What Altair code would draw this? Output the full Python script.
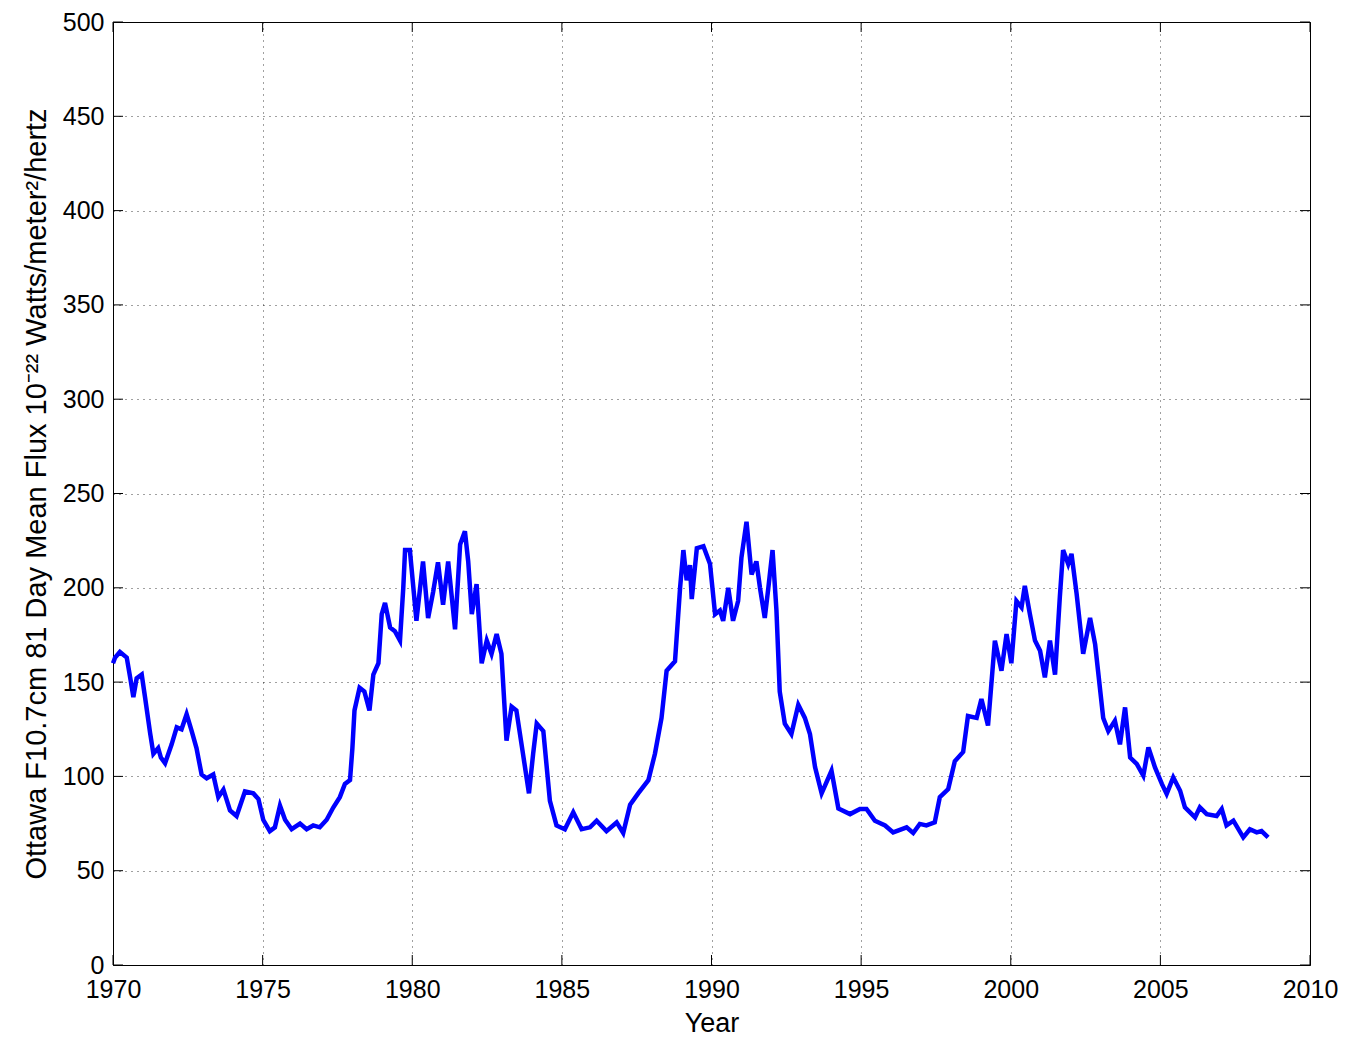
import altair as alt
import pandas as pd

# Ottawa F10.7 cm solar radio flux, 81-day running mean
years = [
    1970.0, 1970.07, 1970.23, 1970.46, 1970.6, 1970.68, 1970.79, 1970.96, 1971.07, 1971.24,
    1971.35, 1971.51, 1971.6, 1971.74, 1971.96, 1972.13, 1972.29, 1972.46, 1972.63, 1972.79,
    1972.96, 1973.13, 1973.35, 1973.52, 1973.69, 1973.91, 1974.13, 1974.41, 1974.69, 1974.86,
    1975.02, 1975.24, 1975.41, 1975.58, 1975.75, 1975.97, 1976.25, 1976.47, 1976.69, 1976.91,
    1977.14, 1977.36, 1977.58, 1977.75, 1977.92, 1978.0, 1978.07, 1978.24, 1978.4, 1978.57,
    1978.7, 1978.87, 1978.98, 1979.09, 1979.26, 1979.42, 1979.59, 1979.7, 1979.76, 1979.92,
    1980.14, 1980.36, 1980.53, 1980.7, 1980.86, 1981.03, 1981.2, 1981.43, 1981.6, 1981.76,
    1981.87, 1981.99, 1982.15, 1982.32, 1982.49, 1982.65, 1982.82, 1982.98, 1983.15, 1983.32,
    1983.48, 1983.7, 1983.9, 1984.04, 1984.16, 1984.38, 1984.6, 1984.82, 1985.1, 1985.38,
    1985.66, 1985.94, 1986.16, 1986.49, 1986.83, 1987.05, 1987.28, 1987.55, 1987.89, 1988.11,
    1988.33, 1988.5, 1988.78, 1988.95, 1989.06, 1989.17, 1989.28, 1989.34, 1989.51, 1989.73,
    1989.95, 1990.12, 1990.28, 1990.39, 1990.56, 1990.72, 1990.89, 1991.0, 1991.17, 1991.34,
    1991.5, 1991.62, 1991.78, 1991.9, 1992.04, 1992.17, 1992.28, 1992.45, 1992.67, 1992.9,
    1993.12, 1993.29, 1993.46, 1993.68, 1994.01, 1994.24, 1994.63, 1994.96, 1995.18, 1995.46,
    1995.8, 1996.07, 1996.52, 1996.74, 1996.96, 1997.18, 1997.46, 1997.63, 1997.91, 1998.13,
    1998.41, 1998.57, 1998.86, 1999.02, 1999.24, 1999.47, 1999.69, 1999.86, 2000.02, 2000.19,
    2000.36, 2000.47, 2000.64, 2000.81, 2000.98, 2001.14, 2001.31, 2001.48, 2001.64, 2001.75,
    2001.92, 2002.03, 2002.2, 2002.42, 2002.65, 2002.82, 2003.09, 2003.26, 2003.48, 2003.65,
    2003.82, 2003.99, 2004.21, 2004.43, 2004.6, 2004.82, 2005.05, 2005.21, 2005.43, 2005.66,
    2005.82, 2006.16, 2006.32, 2006.55, 2006.88, 2007.05, 2007.21, 2007.44, 2007.77, 2007.99,
    2008.22, 2008.38, 2008.6,
]
flux = [
    160, 163, 166, 163, 150, 142, 152, 154, 142, 123,
    112, 115, 110, 107, 117, 126, 125, 133, 124, 115,
    101, 99, 101, 89, 93, 82, 79, 92, 91, 88,
    77, 71, 73, 84.5, 77, 72, 75, 72, 74, 73,
    77, 83.5, 89, 96, 98, 115, 135, 147, 145, 135,
    154, 160, 186, 192, 179, 177, 172, 200, 220, 220,
    182.5, 214, 184, 198, 213.5, 191, 214, 178, 223, 230,
    214, 186, 202, 160, 172, 165, 175.5, 165, 119, 137,
    135, 112, 91, 112, 128, 124, 87, 74, 72, 81,
    72, 73, 76.5, 71, 75.6, 70, 85, 91, 98, 112,
    131, 156, 161, 200, 220, 204, 212, 194, 221, 222,
    212.6, 186, 188, 182.5, 200, 182.5, 193, 216, 235, 207,
    214, 200, 184, 200, 220, 188, 145, 128, 122.5, 138,
    131, 122.5, 105, 91, 103, 83, 80, 82.7, 82.7, 76.5,
    74, 70.3, 73, 70, 74.8, 74, 75.6, 89, 93.3, 108,
    113, 132, 131, 141, 127, 172, 156, 175.5, 160, 193,
    189.6, 201, 186, 172, 166.6, 152.5, 172, 154, 195, 220,
    212.6, 218, 197, 165, 184, 170, 131, 124, 129.5, 117,
    136.6, 110, 106.6, 100.4, 115.4, 104.8, 96, 90.7, 99.5, 92.4,
    83.6, 78.3, 83.6, 80, 79, 82.7, 74, 76.5, 67.7, 72,
    70.3, 71, 67.7,
]

x_ticks = [1970, 1975, 1980, 1985, 1990, 1995, 2000, 2005, 2010]
y_ticks = [0, 50, 100, 150, 200, 250, 300, 350, 400, 450, 500]

W, H = 1197, 943
FONT = "Liberation Sans"
TICK_LEN = 10

series = pd.DataFrame({"year": years, "flux": flux})
xt = pd.DataFrame({"year": x_ticks})
yt = pd.DataFrame({"flux": y_ticks})

x_scale = alt.Scale(domain=[1970, 2010], nice=False, zero=False)
y_scale = alt.Scale(domain=[0, 500], nice=False)

x_axis = alt.Axis(
    values=x_ticks, format="d", grid=True, gridDash=[1, 5], gridColor="#000000",
    gridOpacity=0.75, ticks=False, domain=False, labelFont=FONT, labelFontSize=25,
    labelColor="black", labelPadding=12, title="Year", titleFont=FONT,
    titleFontSize=27, titleFontWeight="normal", titleColor="black", titlePadding=8,
    labelFlush=False,
)
y_axis = alt.Axis(
    values=y_ticks, grid=True, gridDash=[1, 5], gridColor="#000000",
    gridOpacity=0.75, ticks=False, domain=False, labelFont=FONT, labelFontSize=25,
    labelColor="black", labelPadding=9,
    title="Ottawa F10.7cm 81 Day Mean Flux 10\u207b\u00b2\u00b2 Watts/meter\u00b2/hertz",
    titleFont=FONT, titleFontSize=29, titleFontWeight="normal", titleColor="black",
    titlePadding=11, labelFlush=False,
)

line = alt.Chart(series).mark_line(color="#0000ff", strokeWidth=4.5, strokeJoin="miter").encode(
    x=alt.X("year:Q", scale=x_scale, axis=x_axis),
    y=alt.Y("flux:Q", scale=y_scale, axis=y_axis),
)

# inward tick marks on all four sides of the box
tick_style = dict(color="black", strokeWidth=1)
x_bottom = alt.Chart(xt).mark_rule(**tick_style).encode(
    x=alt.X("year:Q", scale=x_scale), y=alt.value(H), y2=alt.value(H - TICK_LEN)
)
x_top = alt.Chart(xt).mark_rule(**tick_style).encode(
    x=alt.X("year:Q", scale=x_scale), y=alt.value(0), y2=alt.value(TICK_LEN)
)
y_left = alt.Chart(yt).mark_rule(**tick_style).encode(
    y=alt.Y("flux:Q", scale=y_scale), x=alt.value(0), x2=alt.value(TICK_LEN)
)
y_right = alt.Chart(yt).mark_rule(**tick_style).encode(
    y=alt.Y("flux:Q", scale=y_scale), x=alt.value(W), x2=alt.value(W - TICK_LEN)
)

chart = (
    alt.layer(line, x_bottom, x_top, y_left, y_right)
    .properties(
        width=W,
        height=H,
        autosize=alt.AutoSizeParams(type="none"),
        padding={"left": 113, "top": 22, "right": 35, "bottom": 72},
        background="white",
    )
    .configure_view(stroke="black", strokeWidth=1)
)

chart.save("out.html", embed_options={"renderer": "svg", "actions": False})
